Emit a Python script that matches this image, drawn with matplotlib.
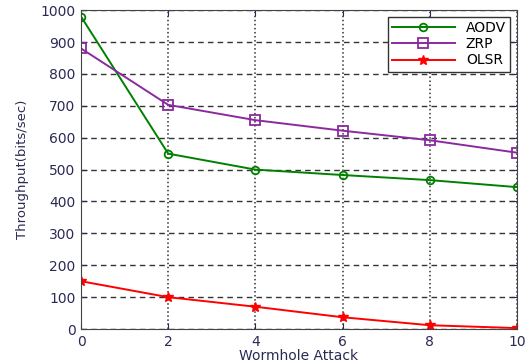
import numpy as np
import matplotlib
matplotlib.use('Agg')
import matplotlib.pyplot as plt

plt.rcParams['font.family'] = ['DejaVu Sans']

X = [0, 2, 4, 6, 8, 10]
AODV = [980, 550, 500, 483, 467, 445]
ZRP = [880, 703, 655, 622, 592, 553]
OLSR = [150, 100, 70, 37, 12, 3]

fig = plt.figure(figsize=(5.26, 3.62), dpi=100)
ax = fig.add_axes([0.154, 0.091, 0.829, 0.881])

ax.plot(X, AODV, color='#008000', lw=1.4, marker='o', ms=5.5, mfc='none', mec='#008000', mew=1.3, label='AODV')
ax.plot(X, ZRP, color='#8a2a9e', lw=1.4, marker='s', ms=7, mfc='none', mec='#8a2a9e', mew=1.3, label='ZRP')
ax.plot(X, OLSR, color='#ff0000', lw=1.4, marker='*', ms=7, mfc='#ff0000', mec='#ff0000', label='OLSR')

ax.set_xlim(0, 10)
ax.set_ylim(0, 1000)
ax.set_xticks(X)
ax.set_yticks(np.arange(0, 1001, 100))
ax.xaxis.grid(True, linestyle=':', color='#333333', lw=1.1)
ax.yaxis.grid(True, linestyle='--', color='#333333', lw=1.0, dashes=(4, 3))
ax.set_axisbelow(True)
ax.tick_params(direction='in', labelsize=10, colors='#2a2a55', length=4, top=True, right=True, pad=4)
for s in ax.spines.values():
    s.set_color('#444444')

ax.set_xlabel('Wormhole Attack', fontsize=10, color='#2a2a55', labelpad=0)
ax.set_ylabel('Throughput(bits/sec)', fontsize=9.5, color='#2a2a55', labelpad=8)

leg = ax.legend(loc='upper right', fontsize=10, fancybox=False, framealpha=1,
                edgecolor='#333333', borderpad=0.3, labelspacing=0.15, handlelength=4.5,
                borderaxespad=0.5)
leg.get_frame().set_linewidth(1.0)

fig.savefig('out.png', dpi=100)
